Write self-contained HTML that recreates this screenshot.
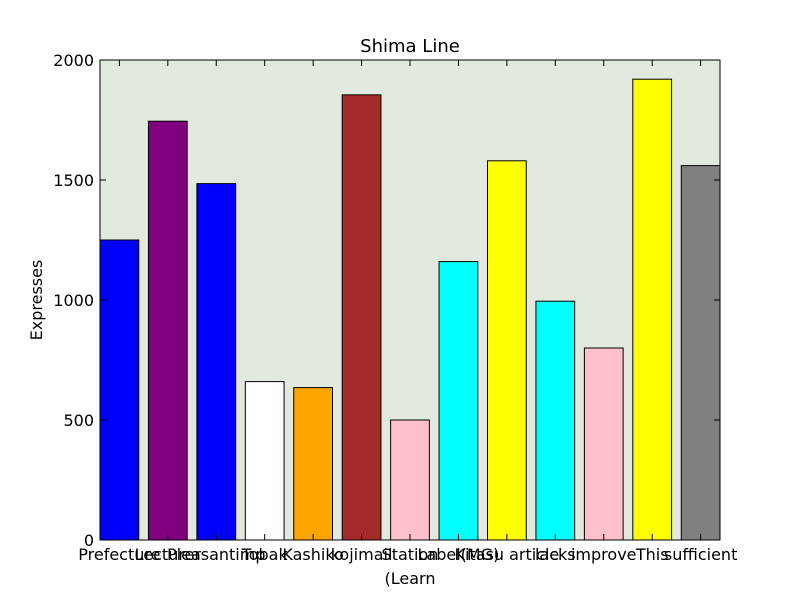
<!DOCTYPE html>
<html><head><meta charset="utf-8"><style>
body{margin:0;background:#fff;}
svg text{font-family:"DejaVu Sans","Liberation Sans",sans-serif;}
</style></head><body>
<svg id="chart" width="800" height="600">
<rect width="800" height="600" fill="#fff"/>
<rect x="100" y="60" width="620" height="480" fill="#e2eae0"/>
<g id="bars"></g>
<rect x="100" y="60" width="620" height="480" fill="none" stroke="#000" stroke-width="1"/>
<g id="yaxis"></g>
<g id="xaxis"></g>
<text x="410" y="52" text-anchor="middle" font-size="18">Shima Line</text>
<text x="42" y="300" text-anchor="middle" font-size="16" transform="rotate(-90 42 300)">Expresses</text>
<text x="410" y="584" text-anchor="middle" font-size="16">(Learn</text>
</svg>
<script>
const labels = ["Prefecture","Lecturer","Pleasantimp","Tobak","Kashiko","kojimail","Station","Label(MG)","Kitasu article","lacks","improve","This","sufficient"];
const values = [1250,1745,1485,660,635,1855,500,1160,1580,995,800,1920,1560];
const colors = ["blue","purple","blue","white","orange","brown","pink","cyan","yellow","cyan","pink","yellow","gray"];
const yTicks = [0,500,1000,1500,2000];
const NS="http://www.w3.org/2000/svg";
const x0=100,x1=720,y0=540,y1=60,yMax=2000;
const n=values.length, span=n-1+0.8;
function xs(i){return x0+i*(x1-x0)/span;}
function ys(v){return y0-v/yMax*(y0-y1);}
const bw=0.8*(x1-x0)/span;
const bars=document.getElementById('bars');
values.forEach((v,i)=>{
  const r=document.createElementNS(NS,'rect');
  r.setAttribute('x',xs(i));r.setAttribute('y',ys(v));
  r.setAttribute('width',bw);r.setAttribute('height',y0-ys(v));
  r.setAttribute('fill',colors[i]);r.setAttribute('stroke','#000');
  
  
  bars.appendChild(r);
});
const ya=document.getElementById('yaxis');
yTicks.forEach(t=>{
  const y=ys(t);
  const l=document.createElementNS(NS,'path');
  l.setAttribute('d',`M${x0} ${y}h6M${x1} ${y}h-6`);l.setAttribute('stroke','#000');
  
  
  ya.appendChild(l);
  const tx=document.createElementNS(NS,'text');
  tx.setAttribute('x',x0-6);tx.setAttribute('y',y+6);tx.setAttribute('text-anchor','end');tx.setAttribute('font-size','16');
  tx.textContent=t;
  
  
  ya.appendChild(tx);
});
const xa=document.getElementById('xaxis');
labels.forEach((lab,i)=>{
  const cx=xs(i)+bw/2;
  const l=document.createElementNS(NS,'path');
  l.setAttribute('d',`M${cx} ${y0}v-6M${cx} ${y1}v6`);l.setAttribute('stroke','#000');
  
  
  xa.appendChild(l);
  const tx=document.createElementNS(NS,'text');
  tx.setAttribute('x',cx);tx.setAttribute('y',560);tx.setAttribute('text-anchor','middle');tx.setAttribute('font-size','16');
  tx.textContent=lab;
  
  
  xa.appendChild(tx);
});
</script>
</body></html>
